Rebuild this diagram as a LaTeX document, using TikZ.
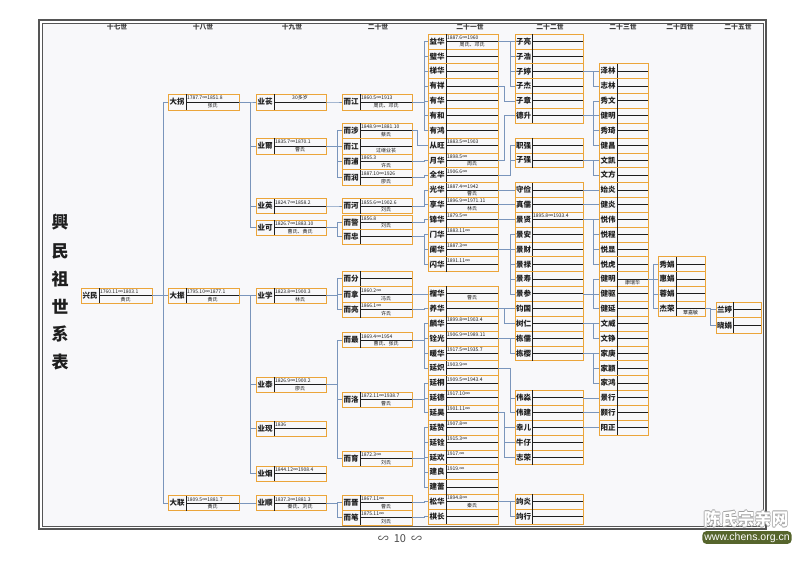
\documentclass[tikz,border=0pt]{standalone}
\usepackage{fontspec}
\setmainfont{Noto Sans CJK SC}
\newfontfamily\dejavu{DejaVu Sans}
\newfontfamily\libsans{Liberation Sans}
\definecolor{boxor}{HTML}{EBA53A}
\definecolor{connc}{HTML}{7A95BB}
\definecolor{inkc}{HTML}{1E1E1E}
\definecolor{framecol}{HTML}{555555}
\definecolor{paperc}{HTML}{F8F8FA}
\definecolor{olivec}{HTML}{56652C}
\tikzset{
 rowbox/.style={draw=boxor, line width=0.6pt, inner sep=0pt, outer sep=0pt, rectangle},
 divl/.style={draw=inkc, line width=0.85pt},
 midl/.style={draw=inkc, line width=0.85pt},
 namet/.style={font=\fontsize{7.5}{7.5}\selectfont\bfseries, text=inkc, inner sep=0pt},
 datet/.style={font=\fontsize{5}{5}\selectfont, text=inkc, inner sep=0pt},
 spouset/.style={font=\fontsize{5}{5}\selectfont, text=inkc, inner sep=0pt},
 connl/.style={draw=connc, line width=0.6pt},
 gen/.style={font=\fontsize{6.8}{6.8}\selectfont\bfseries, text=inkc!85, inner sep=0pt},
 titlech/.style={font=\fontsize{17}{17}\selectfont\bfseries, text=inkc, inner sep=0pt},
 wmk/.style={font=\fontsize{17}{17}\selectfont\bfseries, inner sep=0pt},
}
% name, xl, xdiv, xr, ycenter, height, label, top text, bottom text
\newcommand\personrow[9]{%
 \node[rowbox, minimum width={(#4-#2)*1pt}, minimum height={(#6)*1pt}] (#1) at ({(#2+#4)/2},{#5}) {};
 \draw[divl] (#3,{#5-(#6)/2}) -- (#3,{#5+(#6)/2});
 \draw[midl] (#3,{#5}) -- (#4,{#5});
 \node[namet] (#1-n) at ({(#2+#3)/2},{#5}) {#7};
 \node[datet, anchor=west] (#1-t) at ({#3+0.8},{#5-(#6)/4}) {#8};
 \node[spouset] (#1-b) at ({(#3+#4)/2},{#5+(#6)/4}) {#9};
}
\newcommand\rowA[5]{\personrow{#1}{428}{446}{498}{41.425+14.85*#2}{14.85}{#3}{#4}{#5}}
\newcommand\rowB[5]{\personrow{#1}{515}{532}{583}{41.425+14.85*#2}{14.85}{#3}{#4}{#5}}
\newcommand\rowC[5]{\personrow{#1}{599}{617}{648}{41.425+14.85*#2}{14.85}{#3}{#4}{#5}}
\newcommand\rowD[5]{\personrow{#1}{658}{676}{705}{41.425+14.85*#2}{14.85}{#3}{#4}{#5}}
\newcommand\famlink[3]{\foreach \kid in {#3}{\draw[connl] (#1.east) -- (#1.east -| #2) |- (\kid.west);}}
\begin{document}
\begin{tikzpicture}[x=1pt,y=-1pt]
\useasboundingbox (0,0) rectangle (800,566);
\fill[white] (0,0) rectangle (800,566);
\fill[paperc] (42,23) rectangle (762.8,526.2);
\draw[framecol, line width=2pt] (39,20) rectangle (765.5,529);
\draw[framecol, line width=0.5pt] (42,23) rectangle (762.8,526.2);

% connector columns
\coordinate (k17) at (163,0);
\coordinate (k18) at (250,0);
\coordinate (k19) at (337,0);
\coordinate (k20) at (424,0);
\coordinate (k20b) at (417,0);
\coordinate (k21) at (510,0);
\coordinate (k21b) at (504,0);
\coordinate (k22) at (593,0);
\coordinate (k23) at (653,0);
\coordinate (k24) at (710,0);

% generation headers
\node[gen] (g17) at (117,27) {十七世};
\node[gen] (g18) at (203,27) {十八世};
\node[gen] (g19) at (292,27) {十九世};
\node[gen] (g20) at (378,27) {二十世};
\node[gen] (g21) at (470,27) {二十一世};
\node[gen] (g22) at (550,27) {二十二世};
\node[gen] (g23) at (623,27) {二十三世};
\node[gen] (g24) at (680,27) {二十四世};
\node[gen] (g25) at (738,27) {二十五世};

% title
\node[titlech] (t1) at (60,222) {興};
\node[titlech] (t2) at (60,251) {民};
\node[titlech] (t3) at (60,279) {祖};
\node[titlech] (t4) at (60,307) {世};
\node[titlech] (t5) at (60,334) {系};
\node[titlech] (t6) at (60,362) {表};

% 17th - 19th
\personrow{xm}{81}{99}{152}{295.5}{15}{兴民}{1760.11∞1803.1}{黄氏}
\personrow{dg}{168}{186}{239}{102}{16}{大拐}{1787.7∞1851.8}{张氏}
\personrow{dz}{168}{186}{239}{295.5}{15}{大振}{1795.10∞1877.1}{黄氏}
\personrow{dl}{168}{186}{239}{503}{15}{大联}{1809.5∞1881.7}{黄氏}
\personrow{yc}{256}{274}{326}{102}{16}{业苌}{}{}
\node[datet] (yc-t2) at (300,98) {30多岁};
\personrow{ye}{256}{274}{326}{146}{16}{业爾}{1835.7∞1870.1}{曹氏}
\personrow{yy}{256}{274}{326}{206}{15}{业英}{1824.7∞1858.2}{}
\personrow{yk}{256}{274}{326}{227.5}{15}{业可}{1826.7∞1883.10}{曹氏、黄氏}
\personrow{yx}{256}{274}{326}{295.5}{15}{业学}{1823.8∞1900.3}{林氏}
\personrow{yt}{256}{274}{326}{384.5}{15}{业泰}{1826.9∞1900.2}{廖氏}
\personrow{yxn}{256}{274}{326}{428.5}{15}{业现}{1836}{}
\personrow{yyn}{256}{274}{326}{473.5}{15}{业烟}{1844.12∞1908.4}{}
\personrow{ys}{256}{274}{326}{503}{15}{业顺}{1837.3∞1881.3}{秦氏、刘氏}

% 20th
\personrow{eja}{342}{360}{412}{102}{16}{而江}{1860.5∞1913}{周氏、邓氏}
\personrow{es}{342}{360}{412}{130.75}{15.5}{而涉}{1848.9∞1881.10}{蔡氏}
\personrow{ejb}{342}{360}{412}{146.25}{15.5}{而江}{}{过继业苌}
\personrow{ep}{342}{360}{412}{161.75}{15.5}{而浦}{1865.3}{许氏}
\personrow{er}{342}{360}{412}{177.25}{15.5}{而润}{1887.10∞1926}{廖氏}
\personrow{eh}{342}{360}{412}{206}{15}{而河}{1855.6∞1902.6}{刘氏}
\personrow{ejg}{342}{360}{412}{222.25}{14.5}{而警}{1856.8}{刘氏}
\personrow{ezh}{342}{360}{412}{236.75}{14.5}{而忠}{}{}
\personrow{ef}{342}{360}{412}{278.75}{15.5}{而分}{}{}
\personrow{en}{342}{360}{412}{294.25}{15.5}{而拿}{1860.2∞}{冯氏}
\personrow{el}{342}{360}{412}{309.75}{15.5}{而亮}{1866.1∞}{许氏}
\personrow{ezu}{342}{360}{412}{340}{15}{而最}{1869.4∞1954}{曹氏、张氏}
\personrow{elu}{342}{360}{412}{399.5}{15}{而洛}{1872.11∞1938.7}{曹氏}
\personrow{eyu}{342}{360}{412}{458.5}{15}{而育}{1872.3∞}{刘氏}
\personrow{ejn}{342}{360}{412}{502.5}{15}{而晋}{1867.11∞}{曹氏}
\personrow{ebi}{342}{360}{412}{517.5}{15}{而笔}{1875.11∞}{刘氏}

% 21st
\rowA{a0}{0}{益华}{1887.6∞1960}{周氏、邓氏}
\rowA{a1}{1}{璧华}{}{}
\rowA{a2}{2}{梯华}{}{}
\rowA{a3}{3}{有祥}{}{}
\rowA{a4}{4}{有华}{}{}
\rowA{a5}{5}{有和}{}{}
\rowA{a6}{6}{有鸿}{}{}
\rowA{a7}{7}{从旺}{1883.5∞1903}{}
\rowA{a8}{8}{月华}{1898.5∞}{周氏}
\rowA{a9}{9}{全华}{1906.6∞}{}
\rowA{a10}{10}{光华}{1887.4∞1942}{曹氏}
\rowA{a11}{11}{享华}{1896.9∞1971.11}{林氏}
\rowA{a12}{12}{锦华}{1879.5∞}{}
\rowA{a13}{13}{门华}{1883.11∞}{}
\rowA{a14}{14}{阑华}{1887.3∞}{}
\rowA{a15}{15}{闪华}{1891.11∞}{}
\rowA{a17}{17}{榴华}{}{曹氏}
\rowA{a18}{18}{养华}{}{}
\rowA{a19}{19}{麟华}{1899.8∞1903.4}{}
\rowA{a20}{20}{铨光}{1906.9∞1989.11}{}
\rowA{a21}{21}{暖华}{1917.5∞1935.7}{}
\rowA{a22}{22}{延炽}{1903.9∞}{}
\rowA{a23}{23}{延桐}{1909.5∞1943.4}{}
\rowA{a24}{24}{延德}{1917.10∞}{}
\rowA{a25}{25}{延昊}{1901.11∞}{}
\rowA{a26}{26}{延赞}{1907.8∞}{}
\rowA{a27}{27}{延铨}{1915.3∞}{}
\rowA{a28}{28}{延欢}{1917.∞}{}
\rowA{a29}{29}{建良}{1919.∞}{}
\rowA{a30}{30}{建蕾}{}{}
\rowA{a31}{31}{松华}{1894.8∞}{秦氏}
\rowA{a32}{32}{棋长}{}{}

% 22nd
\rowB{b0}{0}{子亮}{}{}
\rowB{b1}{1}{子浩}{}{}
\rowB{b2}{2}{子婷}{}{}
\rowB{b3}{3}{子杰}{}{}
\rowB{b4}{4}{子章}{}{}
\rowB{b5}{5}{德升}{}{}
\rowB{b7}{7}{职强}{}{}
\rowB{b8}{8}{子强}{}{}
\rowB{b10}{10}{守俭}{}{}
\rowB{b11}{11}{真儒}{}{}
\rowB{b12}{12}{景贤}{1895.8∞1933.4}{}
\rowB{b13}{13}{景安}{}{}
\rowB{b14}{14}{景财}{}{}
\rowB{b15}{15}{景禄}{}{}
\rowB{b16}{16}{景寿}{}{}
\rowB{b17}{17}{景参}{}{}
\rowB{b18}{18}{钧国}{}{}
\rowB{b19}{19}{树仁}{}{}
\rowB{b20}{20}{栋儒}{}{}
\rowB{b21}{21}{栋樱}{}{}
\rowB{b24}{24}{伟淼}{}{}
\rowB{b25}{25}{伟建}{}{}
\rowB{b26}{26}{幸儿}{}{}
\rowB{b27}{27}{牛仔}{}{}
\rowB{b28}{28}{志荣}{}{}
\rowB{b31}{31}{竘炎}{}{}
\rowB{b32}{32}{竘行}{}{}

% 23rd
\rowC{c2}{2}{泽林}{}{}
\rowC{c3}{3}{志林}{}{}
\rowC{c4}{4}{秀文}{}{}
\rowC{c5}{5}{健明}{}{}
\rowC{c6}{6}{秀琦}{}{}
\rowC{c7}{7}{健昌}{}{}
\rowC{c8}{8}{文凯}{}{}
\rowC{c9}{9}{文方}{}{}
\rowC{c10}{10}{始炎}{}{}
\rowC{c11}{11}{健炎}{}{}
\rowC{c12}{12}{悦伟}{}{}
\rowC{c13}{13}{悦程}{}{}
\rowC{c14}{14}{悦显}{}{}
\rowC{c15}{15}{悦虎}{}{}
\rowC{c16}{16}{健明}{}{康瑞华}
\rowC{c17}{17}{健驱}{}{}
\rowC{c18}{18}{健延}{}{}
\rowC{c19}{19}{文威}{}{}
\rowC{c20}{20}{文铮}{}{}
\rowC{c21}{21}{家庚}{}{}
\rowC{c22}{22}{家颖}{}{}
\rowC{c23}{23}{家鸿}{}{}
\rowC{c24}{24}{景行}{}{}
\rowC{c25}{25}{颢行}{}{}
\rowC{c26}{26}{阳正}{}{}

% 24th, 25th
\rowD{d15}{15}{秀娟}{}{}
\rowD{d16}{16}{惠娟}{}{}
\rowD{d17}{17}{蓉娟}{}{}
\rowD{d18}{18}{杰荣}{}{覃嘉敏}
\personrow{f0}{716}{733}{761}{309.75}{15.5}{兰婷}{}{}
\personrow{f1}{716}{733}{761}{325.25}{15.5}{晓娟}{}{}

% connectors
\famlink{xm}{k17}{dg,dz,dl}
\famlink{dg}{k18}{yc,ye,yy,yk}
\famlink{dz}{k18}{yx,yt,yxn,yyn}
\famlink{dl}{k18}{ys}
\famlink{yc}{k19}{eja}
\famlink{ye}{k19}{es,ejb,ep,er}
\famlink{yy}{k19}{eh}
\famlink{yk}{k19}{ejg,ezh}
\famlink{yx}{k19}{ef,en,el}
\famlink{yt}{k19}{ezu,elu,eyu}
\famlink{ys}{k19}{ejn,ebi}
\famlink{eja}{k20}{a0,a1,a2,a3,a4,a5,a6}
\famlink{es}{k20b}{a7}
\famlink{ep}{k20}{a8}
\famlink{er}{k20}{a9}
\famlink{eh}{k20}{a10,a11}
\famlink{ejg}{k20}{a12}
\famlink{ezh}{k20}{a13,a14,a15}
\famlink{en}{k20}{a17}
\famlink{el}{k20}{a18}
\famlink{ezu}{k20}{a19,a20,a21,a22}
\famlink{elu}{k20}{a23,a24,a25}
\famlink{eyu}{k20}{a26,a27,a28,a29,a30}
\famlink{ejn}{k20}{a31}
\famlink{ebi}{k20}{a32}
\famlink{a0}{k21}{b0,b1,b2,b3}
\famlink{a3}{k21b}{b4}
\famlink{a8}{k21b}{b5}
\famlink{a9}{k21}{b7,b8}
\famlink{a10}{k21}{b10}
\famlink{a11}{k21}{b11}
\famlink{a12}{k21}{b12}
\famlink{a14}{k21}{b13,b14,b15,b16,b17}
\famlink{a18}{k21b}{b18,b19}
\famlink{a20}{k21}{b20,b21}
\famlink{a22}{k21}{b24,b25}
\famlink{a25}{k21b}{b26,b27,b28}
\famlink{a31}{k21}{b31,b32}
\famlink{b2}{k22}{c2,c3}
\famlink{b5}{k22}{c4,c5,c6,c7}
\famlink{b8}{k22}{c8,c9}
\famlink{b10}{k22}{c10}
\famlink{b11}{k22}{c11}
\famlink{b12}{k22}{c12,c13,c14,c15}
\famlink{b17}{k22}{c16,c17,c18}
\famlink{b19}{k22}{c19,c20}
\famlink{b21}{k22}{c21,c22,c23}
\famlink{b24}{k22}{c24}
\famlink{b25}{k22}{c25}
\famlink{b26}{k22}{c26}
\famlink{c16}{k23}{d15,d16,d17,d18}
\famlink{d18}{k24}{f0,f1}

% page number
\node[font=\fontsize{11}{11}\selectfont, text=inkc!80, inner sep=0pt] (pg) at (400,539) {∽\hspace{5pt}10\hspace{5pt}∽};

% watermark
\node[wmk, text=gray!75] (wm1) at (746.7,519) {陈氏宗亲网};
\node[wmk, text=gray!75] (wm2) at (745.3,519) {陈氏宗亲网};
\node[wmk, text=gray!75] (wm3) at (746,519.7) {陈氏宗亲网};
\node[wmk, text=gray!75] (wm4) at (746,518.3) {陈氏宗亲网};
\node[wmk, text=white] (wm5) at (746,519) {陈氏宗亲网};
\node[fill=olivec, rounded corners=4pt, text=white, font=\libsans\fontsize{10.5}{10.5}\selectfont, inner xsep=2pt, inner ysep=1.5pt] (wm6) at (747,537.5) {www.chens.org.cn};
\end{tikzpicture}
\end{document}
